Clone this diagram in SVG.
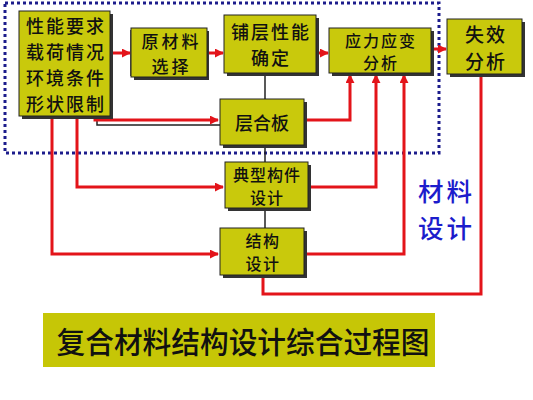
<svg xmlns="http://www.w3.org/2000/svg" width="533" height="400" viewBox="0 0 533 400">
<style>
.box{fill:#c9c90c;stroke:#222;stroke-width:1}
.sh{fill:#333}
.t{font-family:"Noto Sans CJK SC","Noto Sans",sans-serif;fill:#111;text-anchor:middle;dominant-baseline:central;font-weight:500}
.r{fill:none;stroke:#e3141a;stroke-width:3;stroke-linejoin:miter}
.k{fill:none;stroke:#222;stroke-width:1.5}
</style>
<defs>
<marker id="ah" viewBox="0 0 10 10" refX="9" refY="5" markerWidth="3" markerHeight="3" orient="auto" markerUnits="strokeWidth">
<path d="M0,0 L10,5 L0,10 z" fill="#e3141a"/>
</marker>
</defs>
<rect width="533" height="400" fill="#fff"/>
<rect x="5" y="3" width="434" height="150" fill="none" stroke="#1c1c8c" stroke-width="3" stroke-dasharray="3,3"/>
<g id="connectors">
<line class="k" x1="265" y1="73" x2="265" y2="228"/>
<polyline class="k" points="97,117 97,125 220,125"/>
<line class="k" x1="131" y1="30" x2="131" y2="76" stroke-width="2"/>
<line class="r" x1="110" y1="53" x2="130" y2="53" marker-end="url(#ah)"/>
<line class="r" x1="207" y1="53" x2="223" y2="53" marker-end="url(#ah)"/>
<line class="r" x1="305" y1="53" x2="328" y2="53" marker-end="url(#ah)"/>
<line class="r" x1="423" y1="49" x2="446" y2="49" marker-end="url(#ah)"/>
<polyline class="r" points="95,117 95,120 218,120" marker-end="url(#ah)"/>
<polyline class="r" points="77,116 77,187 223,187" marker-end="url(#ah)"/>
<polyline class="r" points="52,116 52,254 218,254" marker-end="url(#ah)"/>
<polyline class="r" points="304,120 350,120 350,75" marker-end="url(#ah)"/>
<polyline class="r" points="308,187 376,187 376,75" marker-end="url(#ah)"/>
<polyline class="r" points="304,254 404,254 404,75" marker-end="url(#ah)"/>
<polyline class="r" points="481,74 481,294 263,294 263,276"/>
</g>
<g id="n-req">
<rect class="sh" x="22" y="14" width="91" height="105"/>
<rect class="box" x="19" y="11" width="91" height="105"/>
<text class="t" x="66" y="24.5" font-size="18" letter-spacing="2">性能要求</text>
<text class="t" x="66" y="50.5" font-size="18" letter-spacing="2">载荷情况</text>
<text class="t" x="66" y="76.5" font-size="18" letter-spacing="2">环境条件</text>
<text class="t" x="66" y="102.5" font-size="18" letter-spacing="2">形状限制</text>
</g>
<g id="n-raw">
<rect class="sh" x="134" y="31" width="75" height="49"/>
<rect class="box" x="131" y="28" width="76" height="49"/>
<text class="t" x="171.5" y="40.5" font-size="17" letter-spacing="3">原材料</text>
<text class="t" x="171.5" y="65" font-size="17" letter-spacing="3">选择</text>
</g>
<g id="n-ply">
<rect class="sh" x="227" y="18" width="92" height="58"/>
<rect class="box" x="224" y="15" width="92" height="58"/>
<text class="t" x="271" y="31" font-size="18" letter-spacing="2">铺层性能</text>
<text class="t" x="271" y="57" font-size="18" letter-spacing="2">确定</text>
</g>
<g id="n-stress">
<rect class="sh" x="332" y="31" width="102" height="45"/>
<rect class="box" x="329" y="28" width="102" height="45"/>
<text class="t" x="381" y="39.5" font-size="16" letter-spacing="2">应力应变</text>
<text class="t" x="381" y="62" font-size="16" letter-spacing="2">分析</text>
</g>
<g id="n-fail">
<rect class="sh" x="450" y="22" width="75" height="55"/>
<rect class="box" x="447" y="19" width="75" height="55"/>
<text class="t" x="486" y="33" font-size="19" letter-spacing="2">失效</text>
<text class="t" x="486" y="60.5" font-size="19" letter-spacing="2">分析</text>
</g>
<g id="n-lam">
<rect class="sh" x="223" y="102" width="84" height="46"/>
<rect class="box" x="220" y="99" width="84" height="46"/>
<text class="t" x="262" y="122" font-size="18">层合板</text>
</g>
<g id="n-typ">
<rect class="sh" x="228" y="165" width="83" height="46"/>
<rect class="box" x="225" y="162" width="83" height="46"/>
<text class="t" x="267" y="173.5" font-size="16" letter-spacing="1">典型构件</text>
<text class="t" x="267" y="196.5" font-size="16" letter-spacing="1">设计</text>
</g>
<g id="n-str">
<rect class="sh" x="223" y="231" width="84" height="47"/>
<rect class="box" x="220" y="228" width="84" height="47"/>
<text class="t" x="263" y="240" font-size="16" letter-spacing="1.5">结构</text>
<text class="t" x="263" y="263" font-size="16" letter-spacing="1.5">设计</text>
</g>
<g id="label-mat">
<text class="t" x="446.5" y="189" font-size="25.5" letter-spacing="3" style="fill:#1c1ccc">材料</text>
<text class="t" x="446.5" y="226" font-size="25.5" letter-spacing="3" style="fill:#1c1ccc">设计</text>
</g>
<g id="title">
<rect x="43" y="313" width="392" height="54" fill="#c6c606"/>
<text class="t" x="243" y="340" font-size="30" font-weight="bold" textLength="373" lengthAdjust="spacingAndGlyphs">复合材料结构设计综合过程图</text>
</g>
</svg>
